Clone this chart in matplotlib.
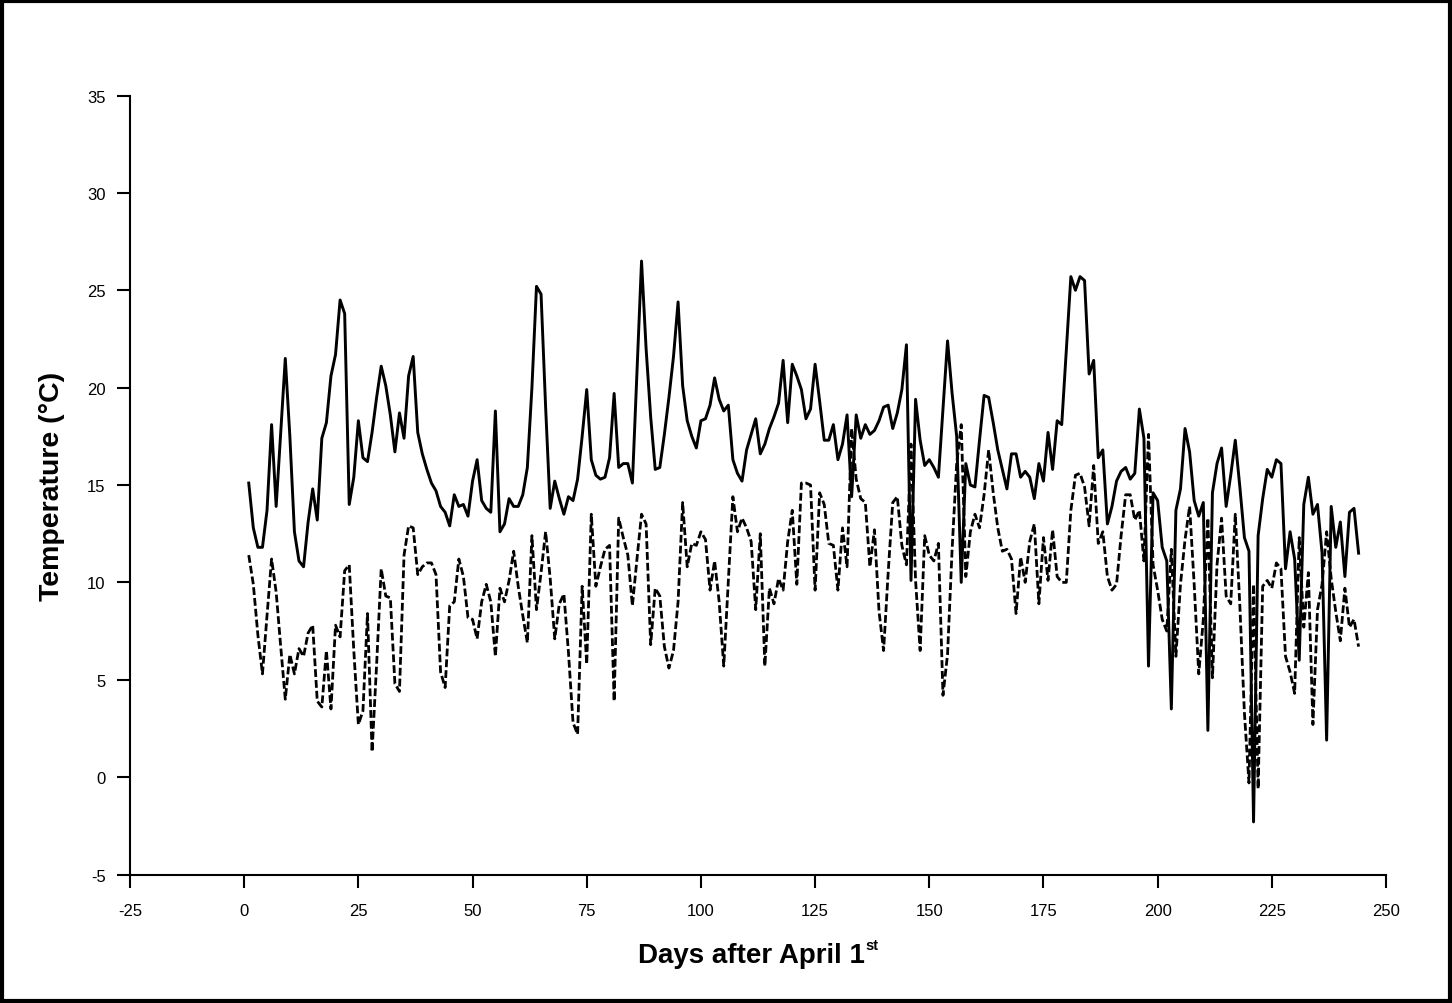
import numpy as np
import matplotlib
matplotlib.use('Agg')
import matplotlib.pyplot as plt
from matplotlib.patches import Rectangle

plt.rcParams['font.family'] = ['Liberation Sans', 'DejaVu Sans']
plt.rcParams['axes.unicode_minus'] = False

# days after April 1st
days = np.arange(1, 245)

# solid line
temp_solid = [
    15.1, 12.8, 11.8, 11.8, 13.7, 18.1, 13.9, 17.7, 21.5, 17.5,
    12.6, 11.1, 10.8, 13.1, 14.8, 13.2, 17.4, 18.2, 20.6, 21.7,
    24.5, 23.8, 14.0, 15.4, 18.3, 16.4, 16.2, 17.7, 19.5, 21.1,
    20.1, 18.6, 16.7, 18.7, 17.4, 20.6, 21.6, 17.7, 16.6, 15.8,
    15.1, 14.7, 13.9, 13.6, 12.9, 14.5, 13.9, 14.0, 13.4, 15.2,
    16.3, 14.2, 13.8, 13.6, 18.8, 12.6, 13.0, 14.3, 13.9, 13.9,
    14.5, 15.9, 20.0, 25.2, 24.8, 19.0, 13.8, 15.2, 14.3, 13.5,
    14.4, 14.2, 15.3, 17.5, 19.9, 16.3, 15.5, 15.3, 15.4, 16.4,
    19.7, 15.9, 16.1, 16.1, 15.1, 20.8, 26.5, 22.0, 18.5, 15.8,
    15.9, 17.6, 19.5, 21.6, 24.4, 20.1, 18.3, 17.5, 16.9, 18.3,
    18.4, 19.1, 20.5, 19.4, 18.8, 19.1, 16.3, 15.6, 15.2, 16.8,
    17.6, 18.4, 16.6, 17.1, 17.9, 18.5, 19.2, 21.4, 18.2, 21.2,
    20.6, 19.9, 18.4, 18.9, 21.2, 19.3, 17.3, 17.3, 18.1, 16.3,
    17.1, 18.6, 14.4, 18.6, 17.4, 18.1, 17.6, 17.8, 18.3, 19.0,
    19.1, 17.9, 18.7, 19.9, 22.2, 10.1, 19.4, 17.3, 16.0, 16.3,
    15.9, 15.4, 18.9, 22.4, 19.7, 17.5, 10.0, 16.1, 15.0, 14.9,
    17.3, 19.6, 19.5, 18.2, 16.8, 15.8, 14.8, 16.6, 16.6, 15.4,
    15.7, 15.4, 14.3, 16.1, 15.2, 17.7, 15.8, 18.3, 18.1, 21.9,
    25.7, 25.0, 25.7, 25.5, 20.7, 21.4, 16.4, 16.8, 13.0, 13.9,
    15.2, 15.7, 15.9, 15.3, 15.6, 18.9, 17.4, 5.7, 14.6, 14.2,
    11.8, 11.1, 3.5, 13.7, 14.8, 17.9, 16.7, 14.2, 13.4, 14.1,
    2.4, 14.6, 16.1, 16.9, 13.9, 15.5, 17.3, 14.9, 12.3, 11.6,
    -2.3, 12.4, 14.3, 15.8, 15.4, 16.3, 16.1, 10.7, 12.6, 11.2,
    6.0, 14.0, 15.4, 13.5, 14.0, 11.5, 1.9, 13.9, 11.8, 13.1,
    10.3, 13.6, 13.8, 11.5,
]

# dashed line
temp_dashed = [
    11.4, 9.9, 7.3, 5.3, 8.3, 11.2, 9.5, 6.7, 4.0, 6.3,
    5.3, 6.6, 6.2, 7.4, 7.8, 3.9, 3.6, 6.5, 3.5, 7.8,
    7.2, 10.6, 10.9, 6.5, 2.7, 3.4, 8.4, 1.3, 5.8, 10.7,
    9.3, 9.2, 4.8, 4.4, 11.4, 12.9, 12.8, 10.4, 10.8, 11.0,
    11.0, 10.4, 5.4, 4.6, 8.8, 9.0, 11.2, 10.3, 8.2, 8.1,
    7.1, 9.0, 9.9, 9.0, 6.2, 9.7, 9.0, 10.1, 11.6, 9.8,
    8.3, 6.9, 12.4, 8.6, 10.5, 12.6, 10.2, 7.1, 8.9, 9.4,
    6.4, 2.8, 2.2, 9.8, 5.8, 13.5, 9.8, 10.8, 11.7, 11.9,
    3.9, 13.3, 12.3, 11.4, 8.8, 11.2, 13.5, 13.0, 6.8, 9.7,
    9.3, 6.7, 5.6, 6.5, 9.0, 14.1, 10.8, 12.0, 11.9, 12.6,
    12.2, 9.6, 11.1, 9.0, 5.7, 10.0, 14.4, 12.6, 13.3, 12.8,
    12.1, 8.6, 12.5, 5.7, 9.7, 8.9, 10.2, 9.6, 12.1, 13.7,
    9.9, 15.1, 15.1, 15.0, 9.6, 14.6, 14.0, 12.0, 11.9, 9.6,
    12.8, 10.8, 17.9, 15.3, 14.3, 14.1, 10.8, 12.7, 8.5, 6.5,
    10.5, 14.1, 14.4, 11.9, 10.9, 17.1, 10.1, 6.5, 12.4, 11.4,
    11.1, 12.0, 4.2, 6.3, 11.7, 16.1, 18.1, 10.3, 12.6, 13.5,
    12.8, 14.5, 16.8, 14.6, 12.8, 11.6, 11.7, 11.2, 8.4, 11.3,
    10.0, 12.1, 13.0, 8.9, 12.3, 10.1, 12.7, 10.3, 10.0, 10.0,
    13.7, 15.5, 15.6, 14.9, 12.9, 16.0, 12.0, 12.6, 10.3, 9.6,
    9.9, 12.4, 14.5, 14.5, 13.2, 13.7, 11.1, 17.6, 10.9, 9.6,
    8.1, 7.5, 11.7, 6.2, 9.9, 12.2, 13.9, 9.9, 5.3, 8.1,
    13.3, 5.1, 10.9, 13.3, 9.3, 8.9, 13.5, 8.8, 3.3, -0.3,
    9.9, -0.6, 9.8, 10.1, 9.7, 11.0, 10.7, 6.2, 5.4, 4.3,
    12.3, 7.7, 10.5, 2.7, 8.6, 9.9, 12.6, 10.2, 8.5, 7.0,
    9.7, 7.7, 8.1, 6.7,
]

x_ticks = list(range(-25, 251, 25))
y_ticks = list(range(-5, 36, 5))

W, H = 1452, 1004
fig = plt.figure(figsize=(W / 100, H / 100), dpi=100)

# frame round the whole picture
fig.patches.append(Rectangle((2 / W, 2 / H), 1 - 4 / W, 1 - 4 / H,
                             transform=fig.transFigure, fill=False,
                             lw=3, ec='black'))

ax = fig.add_axes([130 / W, 1 - 875.5 / H, (1386 - 130) / W, (875.5 - 96.5) / H])

ax.plot(days, temp_solid, color='black', lw=2.1)
ax.plot(days, temp_dashed, color='black', lw=2.0, linestyle=(0, (2.8, 1.1)))

ax.set_xlim(-25, 250)
ax.set_ylim(-5, 35)
ax.set_xticks(x_ticks)
ax.set_yticks(y_ticks)

for side in ['top', 'right']:
    ax.spines[side].set_visible(False)
for side in ['left', 'bottom']:
    ax.spines[side].set_linewidth(1.5)

ax.tick_params(axis='both', direction='out', length=9.5, width=1.5, labelsize=12)
ax.tick_params(axis='x', pad=11)
ax.tick_params(axis='y', pad=8)

ax.set_xlabel('Days after April 1', fontsize=20, fontweight='bold')
ax.xaxis.set_label_coords(0.4944, -0.0867)
ax.set_ylabel('Temperature (°C)', fontsize=20.5, fontweight='bold')
ax.yaxis.set_label_coords(-0.0518, 0.5)

# small superscript "st" right after the x label
fig.canvas.draw()
bb = ax.xaxis.label.get_window_extent(fig.canvas.get_renderer())
fig.text((bb.x1 + 1) / W, (H - 939) / H, 'st', fontsize=10.5,
         fontweight='bold', ha='left', va='top')

fig.savefig('out.png', dpi=100)
